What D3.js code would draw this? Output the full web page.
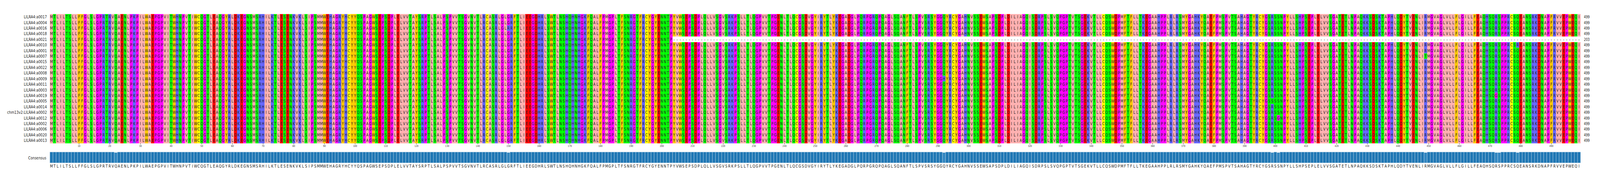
<!DOCTYPE html>
<html>
<head>
<meta charset="utf-8">
<script src="https://cdn.jsdelivr.net/npm/d3@7.9.0/dist/d3.min.js"></script>
<style>
  html, body { margin: 0; padding: 0; background: #fff; overflow: hidden; }
  svg { font-family: 'DejaVu Sans', sans-serif; display: block; width: 100vw; height: 100vh; }
</style>
</head>
<body>
<svg id="chart" viewBox="0 0 5258 467" preserveAspectRatio="none"></svg>
<script>
// consensus sequence
const consensus =
  'MTLILTSLLFFGLSLGPRTRVQAENLPKPILWAEPGPVITWHNPVTIWCQGTLEAQGYRLDKE' +
  'GNSMSRHILKTLESENKVKLSIPSMMWEHAGRYHCYYQSPAGWSEPSDPLELVVTAYSRPTL' +
  'SALPSPVVTSGVNVTLRCASRLGLGRFTLIEEGDHRLSWTLNSHQHNHGKFQALFPMGPLTFS' +
  'NRGTFRCYGYENNTPYVWSEPSDPLQLLVSGVSRKPSLLTLQGPVVTPGENLTLQCGSDVGY' +
  'IRYTLYKEGADGLPQRPGRQPQAGLSQANFTLSPVSRSYGGQYRCYGAHNVSSEWSAPSDPLD' +
  'ILIAGQISDRPSLSVQPGPTVTSGEKVTLLCQSWDPMFTFLLTKEGAAHPPLRLRSMYGAHK' +
  'YQAEFPMSPVTSAHAGTYRCYGSRSSNPYLLSHPSEPLELVVSGATETLNPAQKKSDSKTAPH' +
  'LQDYTVENLIRMGVAGLVLLFLGILLFEAQHSQRSPPRCSQEANSRKDNAPFRVVEPWEQI';

const names = ['LILRA4:a0017', 'LILRA4:a0004', 'LILRA4:a0016', 'LILRA4:a0018', 'LILRA4:a0021',
  'LILRA4:a0010', 'LILRA4:a0001', 'LILRA4:a0007', 'LILRA4:a0015', 'LILRA4:a0022', 'LILRA4:a0008',
  'LILRA4:a0009', 'LILRA4:a0011', 'LILRA4:a0003', 'LILRA4:a0019', 'LILRA4:a0005', 'LILRA4:a0014',
  'chm13v2:LILRA4:a0002', 'LILRA4:a0012', 'LILRA4:a0002', 'LILRA4:a0006', 'LILRA4:a0020', 'LILRA4:a0013'];

// sequences truncated after this many residues (rest is gap)
const truncated = [['LILRA4:a0021', 203]];

// [sequence, position, residue] differences from the consensus
const variants = [
  ['LILRA4:a0001', 22, 'T'],
  ['LILRA4:a0016', 150, 'R'],
  ['LILRA4:a0009', 292, 'H'],
  ['LILRA4:a0005', 399, 'S'],
  ['LILRA4:a0012', 401, 'G'],
  ['LILRA4:a0003', 437, 'P'],
  ['LILRA4:a0007', 449, 'T'],
  ['LILRA4:a0019', 472, 'G'],
  ['LILRA4:a0014', 473, 'N'],
  ['LILRA4:a0010', 479, 'R'],
];

const tickValues = d3.range(10, 500, 10);

// zappo colours
const zappo = {};
'ILVAM'.split('').forEach(c => zappo[c] = '#ffafaf');
'FWY'.split('').forEach(c => zappo[c] = '#ffc800');
'KRH'.split('').forEach(c => zappo[c] = '#6464ff');
'DE'.split('').forEach(c => zappo[c] = '#ff0000');
'STNQ'.split('').forEach(c => zappo[c] = '#00ff00');
'PG'.split('').forEach(c => zappo[c] = '#ff00ff');
zappo['C'] = '#ffff00';

const L = consensus.length;
const truncMap = new Map(truncated);
const seqs = names.map(name => {
  const arr = consensus.split('');
  variants.filter(v => v[0] === name).forEach(v => arr[v[1] - 1] = v[2]);
  if (truncMap.has(name)) for (let i = truncMap.get(name); i < L; i++) arr[i] = '-';
  return { name, arr, len: arr.filter(c => c !== '-').length };
});

const x = d3.scaleBand().domain(d3.range(1, L + 1)).range([164, 5194]);
const y = d3.scaleBand().domain(names).range([36, 367.5]);
const svg = d3.select('#chart');

const rows = svg.selectAll('g.row').data(seqs).enter().append('g')
  .attr('transform', d => `translate(0,${y(d.name)})`);

rows.selectAll('rect').data(d => d.arr.map((c, i) => ({ c, i: i + 1 })))
  .enter().append('rect')
  .attr('x', d => x(d.i)).attr('y', 0)
  .attr('width', x.bandwidth() + 0.3).attr('height', y.bandwidth() + 0.3)
  .attr('fill', d => zappo[d.c] || '#fff');

rows.selectAll('text.res').data(d => d.arr.map((c, i) => ({ c, i: i + 1 })))
  .enter().append('text').attr('class', 'res')
  .attr('x', d => x(d.i) + x.bandwidth() / 2).attr('y', y.bandwidth() / 2 + 4)
  .attr('text-anchor', 'middle').attr('font-size', 11).attr('fill', '#222')
  .text(d => d.c);

rows.append('text')
  .attr('x', 154).attr('y', y.bandwidth() / 2 + 4)
  .attr('text-anchor', 'end').attr('font-size', 11).attr('fill', '#222')
  .text(d => d.name);

rows.append('text')
  .attr('x', 5205).attr('y', y.bandwidth() / 2 + 4)
  .attr('font-size', 10).attr('fill', '#222')
  .text(d => d.len);

// position axis
const axis = d3.axisBottom(x).tickValues(tickValues).tickSize(3).tickPadding(2);
const ax = svg.append('g').attr('transform', 'translate(0,367.5)').call(axis);
ax.select('.domain').remove();
ax.selectAll('text').attr('font-size', 7).attr('fill', '#333').attr('font-family', 'DejaVu Sans');
ax.selectAll('line').attr('stroke', '#333');

// conservation bars
const cons = d3.range(L).map(i => {
  const col = seqs.map(s => s.arr[i]).filter(c => c !== '-');
  return col.filter(c => c === consensus[i]).length / col.length;
});
const h = d3.scaleLinear().domain([0, 1]).range([0, 28]);
const barColor = d3.scaleLinear().domain([0.9, 1]).range(['#4a9bd0', '#1f77b4']).clamp(true);
svg.append('g').selectAll('rect').data(cons).enter().append('rect')
  .attr('x', (d, i) => x(i + 1)).attr('y', d => 418 - h(d))
  .attr('width', x.bandwidth()).attr('height', d => h(d))
  .attr('fill', d => barColor(d)).attr('stroke', '#cfe0ee').attr('stroke-width', 0.8);

svg.append('text').attr('x', 152).attr('y', 409)
  .attr('text-anchor', 'end').attr('font-size', 11).attr('fill', '#222').text('Consensus');

svg.append('g').selectAll('text').data(consensus.split('')).enter().append('text')
  .attr('x', (d, i) => x(i + 1) + x.bandwidth() / 2).attr('y', 430)
  .attr('text-anchor', 'middle').attr('font-size', 11).attr('fill', '#222')
  .text(d => d);
</script>
</body>
</html>
